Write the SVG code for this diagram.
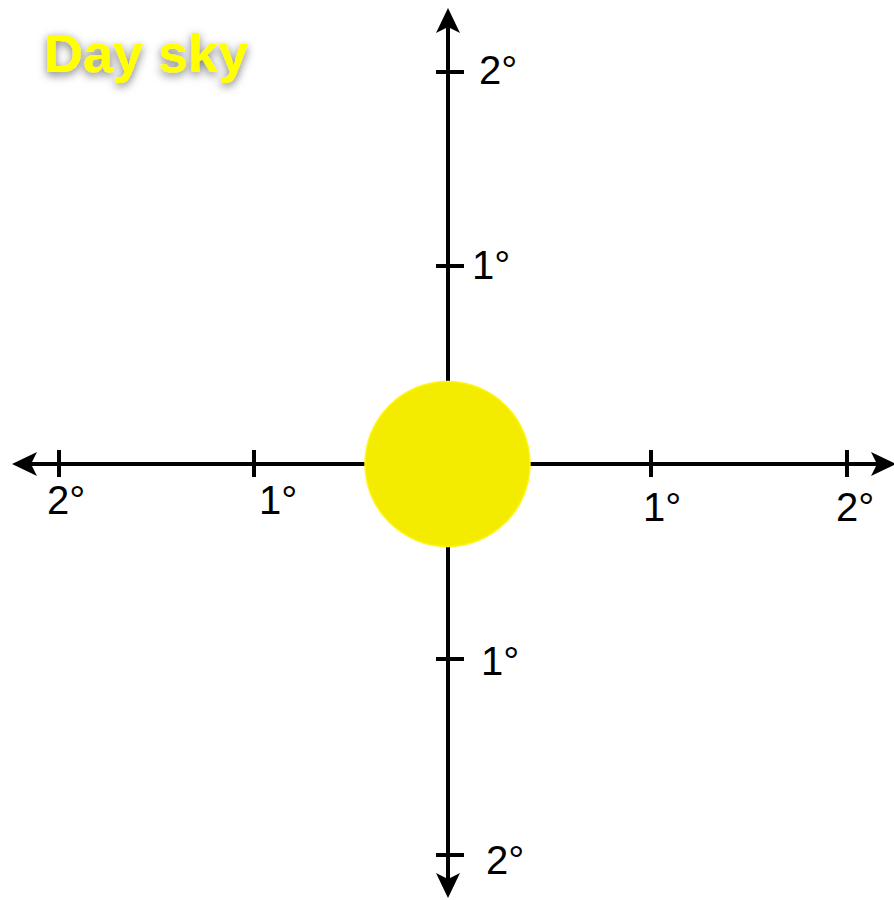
<svg xmlns="http://www.w3.org/2000/svg" width="894" height="900" viewBox="0 0 894 900">
<defs>
<style>
.ax{stroke:#000;stroke-width:4;fill:none}
.lbl{font-family:"Liberation Sans",Arial,sans-serif;font-size:40px;fill:#000}
.title{font-family:"Liberation Sans",Arial,sans-serif;font-size:54px;font-weight:bold;fill:#ffff00}
</style>
<filter id="sh" x="-20%" y="-40%" width="140%" height="180%">
<feDropShadow dx="0" dy="3" stdDeviation="5" flood-color="#000" flood-opacity="0.55"/>
</filter>
</defs>
<rect width="894" height="900" fill="#fff"/>
<g id="title"><text class="title" x="44" y="72" filter="url(#sh)">Day sky</text></g>
<g id="axes">
<line class="ax" x1="448" y1="20" x2="448" y2="886"/>
<line class="ax" x1="24" y1="464" x2="884" y2="464"/>
<path d="M448,8 L460,33 L448,27 L436,33 Z" fill="#000"/>
<path d="M448,898 L460,873 L448,879 L436,873 Z" fill="#000"/>
<path d="M12,464 L37,452 L31,464 L37,476 Z" fill="#000"/>
<path d="M896,464 L871,452 L877,464 L871,476 Z" fill="#000"/>
<g class="ax">
<line x1="436" y1="72" x2="464" y2="72"/>
<line x1="436" y1="266" x2="464" y2="266"/>
<line x1="436" y1="659" x2="464" y2="659"/>
<line x1="436" y1="855" x2="464" y2="855"/>
<line x1="59" y1="450" x2="59" y2="477"/>
<line x1="254" y1="450" x2="254" y2="477"/>
<line x1="651" y1="450" x2="651" y2="477"/>
<line x1="847" y1="450" x2="847" y2="477"/>
</g>
</g>
<g id="labels">
<text class="lbl" x="479" y="84">2°</text>
<text class="lbl" x="472" y="279">1°</text>
<text class="lbl" x="481" y="675">1°</text>
<text class="lbl" x="486" y="874">2°</text>
<text class="lbl" x="47" y="514">2°</text>
<text class="lbl" x="259" y="514">1°</text>
<text class="lbl" x="643" y="521">1°</text>
<text class="lbl" x="836" y="521">2°</text>
</g>
<g id="sun"><circle cx="447.5" cy="464" r="82.5" fill="#f4ec00" stroke="#fff51a" stroke-width="1.5"/></g>
</svg>
